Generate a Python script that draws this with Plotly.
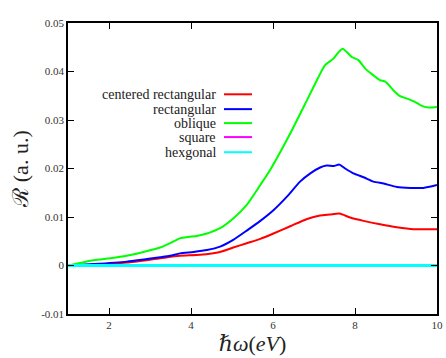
import plotly.graph_objects as go

# Photon energy (eV) and reflectance (a.u.)
x_red = [1.0, 1.62, 2.43, 3.25, 3.73, 4.22, 4.71, 5.03, 5.36, 5.69, 6.01, 6.42, 6.83, 7.15, 7.39, 7.62, 7.88, 8.21, 8.61, 9.02, 9.43, 9.96, 10.0]
y_red = [0, 0.0001, 0.0006, 0.0015, 0.0020, 0.0022, 0.0028, 0.0037, 0.0046, 0.0055, 0.0066, 0.0081, 0.0096, 0.0103, 0.0105, 0.0107, 0.0099, 0.0092, 0.0085, 0.0079, 0.0075, 0.0075, 0.0075]

x_blue = [1.0, 1.62, 2.43, 3.25, 3.49, 3.73, 4.06, 4.39, 4.71, 5.03, 5.36, 5.69, 6.01, 6.34, 6.66, 6.91, 7.15, 7.31, 7.48, 7.62, 7.76, 7.96, 8.21, 8.45, 8.70, 9.02, 9.35, 9.67, 10.0]
y_blue = [0, 0.0003, 0.0008, 0.0017, 0.0020, 0.0025, 0.0028, 0.0032, 0.0039, 0.0053, 0.0072, 0.0092, 0.0114, 0.0142, 0.0173, 0.0190, 0.0202, 0.0206, 0.0205, 0.0208, 0.0200, 0.0190, 0.0182, 0.0173, 0.0169, 0.0162, 0.0160, 0.0160, 0.0166]

x_green = [1.0, 1.62, 2.03, 2.43, 2.84, 3.25, 3.49, 3.73, 3.94, 4.14, 4.39, 4.71, 5.03, 5.36, 5.69, 5.93, 6.42, 6.83, 7.07, 7.27, 7.48, 7.60, 7.70, 7.80, 7.92, 8.09, 8.25, 8.45, 8.61, 8.74, 8.94, 9.10, 9.27, 9.47, 9.63, 9.79, 10.0]
y_green = [0, 0.0011, 0.0015, 0.0020, 0.0028, 0.0037, 0.0046, 0.0056, 0.0059, 0.0061, 0.0066, 0.0077, 0.0097, 0.0125, 0.0166, 0.0197, 0.0272, 0.0341, 0.0382, 0.0413, 0.0427, 0.0440, 0.0447, 0.0440, 0.0430, 0.0423, 0.0406, 0.0392, 0.0382, 0.0379, 0.0361, 0.0349, 0.0344, 0.0337, 0.0329, 0.0326, 0.0327]

x_flat = [1.0, 10.0]
y_square = [0, 0]
y_hex = [0, 0]

names = ["centered rectangular", "rectangular", "oblique", "square", "hexgonal"]
colors = ["#ff0000", "#0000ff", "#00ff00", "#ff00ff", "#00ffff"]
widths = [2, 2, 2, 2, 3]
xs = [x_red, x_blue, x_green, x_flat, x_flat]
ys = [y_red, y_blue, y_green, y_square, y_hex]

y_tickvals = [-0.01, 0, 0.01, 0.02, 0.03, 0.04, 0.05]
y_ticktext = ["-0.01", "0", "0.01", "0.02", "0.03", "0.04", "0.05"]
x_tickvals = [2, 4, 6, 8, 10]

SERIF = "Liberation Serif, DejaVu Serif, serif"

fig = go.Figure()
for n, c, w, x, y in zip(names, colors, widths, xs, ys):
    fig.add_trace(go.Scatter(x=x, y=y, mode="lines", name=n,
                             line=dict(color=c, width=w, shape="spline", smoothing=0.6),
                             showlegend=False))

# manual legend (text on the left of the line sample)
leg_y = [0.755, 0.704, 0.656, 0.608, 0.556]
for n, c, ly in zip(names, colors, leg_y):
    fig.add_annotation(xref="paper", yref="paper", x=0.4065, y=ly, text=n,
                       showarrow=False, xanchor="right", yanchor="middle",
                       font=dict(family=SERIF, size=14, color="#222"))
    fig.add_shape(type="line", xref="paper", yref="paper", x0=0.4228, x1=0.4986,
                  y0=ly, y1=ly, line=dict(color=c, width=2))

axis_common = dict(showline=True, mirror="ticks", linecolor="black", linewidth=1.5,
                   ticks="inside", ticklen=6, tickwidth=1, tickcolor="black",
                   showgrid=False, zeroline=False,
                   tickfont=dict(family=SERIF, size=11, color="#333"))

fig.update_xaxes(range=[1, 10], tickvals=x_tickvals,
                 title=dict(text="<i>ℏω</i>(<i>eV</i>)", font=dict(family=SERIF, size=22, color="#222"), standoff=4),
                 **axis_common)
fig.update_yaxes(range=[-0.01, 0.05], tickvals=y_tickvals, ticktext=y_ticktext,
                 title=dict(text="ℛ (a. u.)", font=dict(family=SERIF, size=22, color="#222"), standoff=6),
                 **axis_common)

fig.update_layout(width=446, height=358, margin=dict(l=68, r=9, t=23, b=44, autoexpand=False),
                  paper_bgcolor="white", plot_bgcolor="white")

fig.write_html("out.html", config={"displayModeBar": False},
               post_script="document.body.style.margin='0';")
